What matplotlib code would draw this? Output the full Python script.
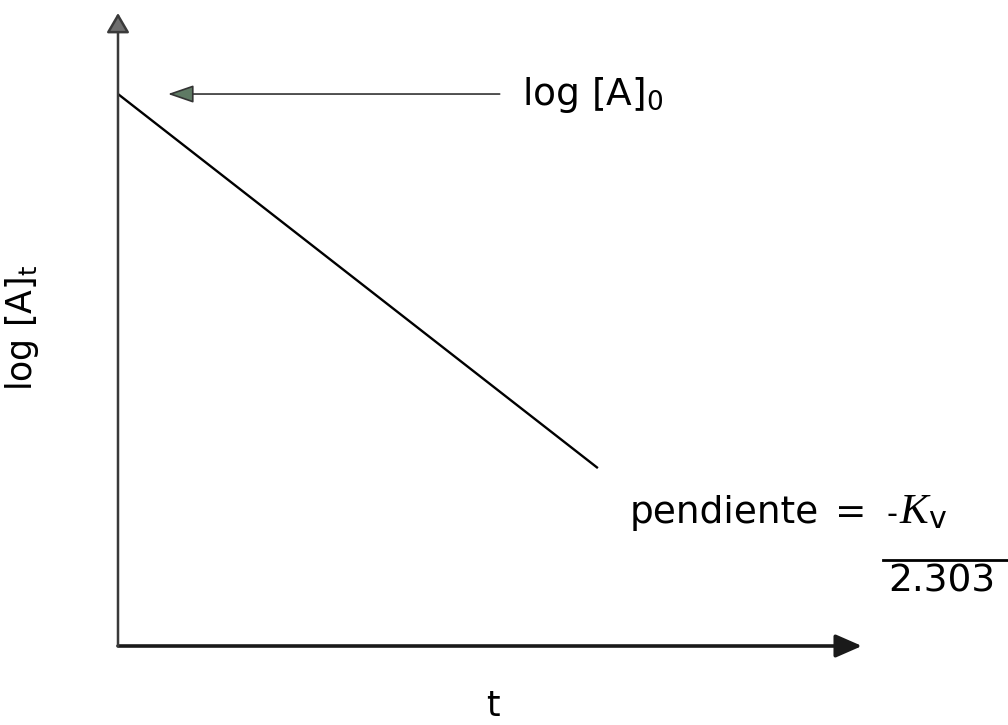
import matplotlib.pyplot as plt
from matplotlib.lines import Line2D

plt.rcParams["font.family"] = "DejaVu Sans"
plt.rcParams["mathtext.fontset"] = "custom"
plt.rcParams["mathtext.rm"] = "DejaVu Sans"
plt.rcParams["mathtext.it"] = "Liberation Serif:italic"

W, H = 1008, 725

# recta de primer orden: log[A]_t frente a t (unidades arbitrarias)
t = [0.0, 6.45]
log_a = [8.72, 2.81]

fig = plt.figure(figsize=(W / 100, H / 100), dpi=100)
ax = fig.add_axes([118 / W, 1 - 646 / H, (862 - 118) / W, (646 - 13) / H])
ax.set_xlim(0, 10)
ax.set_ylim(0, 10)
ax.axis("off")

ax.plot(t, log_a, color="black", lw=1.7, solid_capstyle="butt")

# ejes con flecha
ax.annotate("", xy=(1, 0), xytext=(0, 0), xycoords="axes fraction",
            arrowprops=dict(arrowstyle="-|>,head_length=1.6,head_width=0.7",
                            color="#1a1a1a", lw=2.6, shrinkA=0, shrinkB=0))
ax.annotate("", xy=(0, 1), xytext=(0, 0), xycoords="axes fraction",
            arrowprops=dict(arrowstyle="-|>,head_length=1.2,head_width=0.7",
                            ec="#3a3a3a", fc="#6e6e6e", lw=1.8, shrinkA=0, shrinkB=0))

# flecha hacia la ordenada en el origen
ax.annotate("", xy=(t[0], log_a[0]), xytext=(5.13, log_a[0]),
            arrowprops=dict(arrowstyle="-|>,head_length=1.6,head_width=0.55",
                            ec="#333333", fc="#5f7a64", lw=1.2, shrinkA=0, shrinkB=36))

fig.text(522 / W, 1 - 95 / H, r"log [A]$_{\mathrm{0}}$", fontsize=27, ha="left", va="center")
fig.text(22 / W, 1 - 328 / H, r"log [A]$_{\mathrm{t}}$", fontsize=25, rotation=90,
         ha="center", va="center")
fig.text(493 / W, 1 - 706 / H, "t", fontsize=25, ha="center", va="center")

fig.text(630 / W, 1 - 523 / H, "pendiente", fontsize=27, ha="left", va="baseline")
fig.text(835 / W, 1 - 523 / H, "=", fontsize=27, ha="left", va="baseline")
fig.text(886 / W, 1 - 523 / H, "-", fontsize=22, ha="left", va="baseline")
fig.text(899 / W, 1 - 523 / H, r"$K_{\mathrm{v}}$", fontsize=31, ha="left", va="baseline")
fig.add_artist(Line2D([883 / W, 1.0], [1 - 560 / H, 1 - 560 / H], color="black", lw=2.0))
fig.text(888 / W, 1 - 592 / H, "2.303", fontsize=27, ha="left", va="baseline")

fig.savefig("out.png", dpi=100)
